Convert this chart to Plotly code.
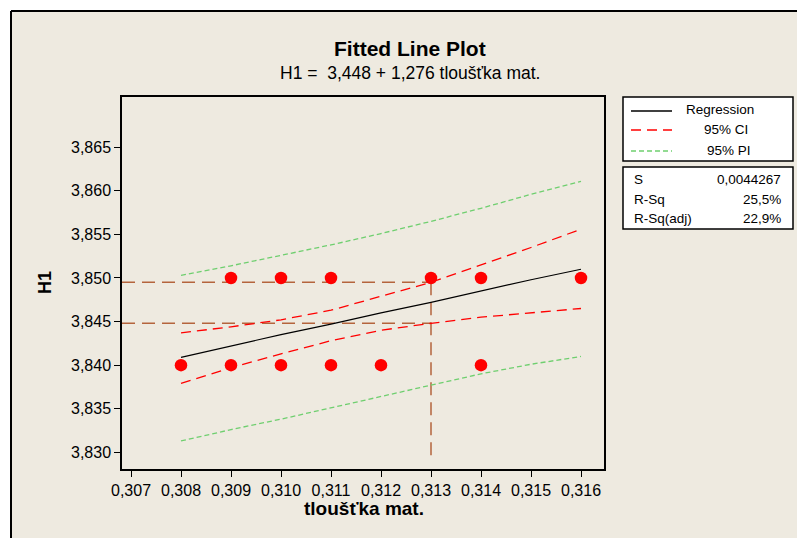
import plotly.graph_objects as go

# ---- data ----
pts_x = [0.309, 0.310, 0.311, 0.313, 0.314, 0.316, 0.308, 0.309, 0.310, 0.311, 0.312, 0.314]
pts_y = [3.850, 3.850, 3.850, 3.850, 3.850, 3.850, 3.840, 3.840, 3.840, 3.840, 3.840, 3.840]

band_x = [0.308, 0.309, 0.310, 0.311, 0.312, 0.313, 0.314, 0.315, 0.316]
reg_y = [3.8409, 3.8422, 3.8435, 3.8447, 3.8460, 3.8472, 3.8485, 3.8498, 3.8510]
ci_up = [3.8437, 3.8444, 3.8452, 3.8463, 3.8479, 3.8495, 3.8515, 3.8535, 3.8556]
ci_lo = [3.8379, 3.8397, 3.8413, 3.8428, 3.8440, 3.8448, 3.8455, 3.8460, 3.8465]
pi_up = [3.8503, 3.8514, 3.8526, 3.8538, 3.8551, 3.8565, 3.8580, 3.8596, 3.8611]
pi_lo = [3.8313, 3.8326, 3.8338, 3.8351, 3.8364, 3.8377, 3.8390, 3.8401, 3.8410]

ref_x = 0.313
ref_hi = 3.8495
ref_lo = 3.8448
ref_bottom = 3.8295

x_ticks = [0.307, 0.308, 0.309, 0.310, 0.311, 0.312, 0.313, 0.314, 0.315, 0.316]
y_ticks = [3.830, 3.835, 3.840, 3.845, 3.850, 3.855, 3.860, 3.865]
x_range = [0.30682, 0.31646]
y_range = [3.82808, 3.87077]

title = "Fitted Line Plot"
subtitle = "H1 =  3,448 + 1,276 tloušťka mat."
x_title = "tloušťka mat."
y_title = "H1"
legend_names = ["Regression", "95% CI", "95% PI"]
stats_names = ["S", "R-Sq", "R-Sq(adj)"]
stats_vals = ["0,0044267", "25,5%", "22,9%"]

# ---- layout geometry (pixels) ----
W, H = 797, 538
L, R, T, B = 122, 604, 97, 469
PW, PH = R - L, B - T
FONT = "Liberation Sans, Arial, sans-serif"

def px(xp):
    return (xp - L) / PW

def py(yp):
    return (B - yp) / PH

BROWN = "#B4643C"
RED = "#FF0000"
GREEN = "#6FCF6F"

fig = go.Figure()

# reference lines
fig.add_trace(go.Scatter(x=[x_range[0], ref_x], y=[ref_hi, ref_hi], mode="lines",
                         line=dict(color=BROWN, width=1.5, dash="13px,7px"), hoverinfo="skip"))
fig.add_trace(go.Scatter(x=[x_range[0], ref_x], y=[ref_lo, ref_lo], mode="lines",
                         line=dict(color=BROWN, width=1.5, dash="13px,7px"), hoverinfo="skip"))
fig.add_trace(go.Scatter(x=[ref_x, ref_x], y=[ref_hi, ref_bottom], mode="lines",
                         line=dict(color=BROWN, width=1.5, dash="13px,7px"), hoverinfo="skip"))

# bands
for yy in (pi_up, pi_lo):
    fig.add_trace(go.Scatter(x=band_x, y=yy, mode="lines",
                             line=dict(color=GREEN, width=1.3, dash="5px,3px")))
for yy in (ci_up, ci_lo):
    fig.add_trace(go.Scatter(x=band_x, y=yy, mode="lines",
                             line=dict(color=RED, width=1.3, dash="10px,6px")))
fig.add_trace(go.Scatter(x=band_x, y=reg_y, mode="lines",
                         line=dict(color="black", width=1.2)))

# points
fig.add_trace(go.Scatter(x=pts_x, y=pts_y, mode="markers",
                         marker=dict(color=RED, size=12.5, line=dict(width=0))))

shapes = []
annotations = []

# beige panel
shapes.append(dict(type="rect", xref="paper", yref="paper", layer="below",
                   x0=px(11), x1=px(800), y0=py(540), y1=py(11),
                   fillcolor="#EEEAE0", line=dict(width=0)))
shapes.append(dict(type="line", xref="paper", yref="paper",
                   x0=px(11), x1=px(800), y0=py(11), y1=py(11),
                   line=dict(color="black", width=2)))
shapes.append(dict(type="line", xref="paper", yref="paper",
                   x0=px(11), x1=px(11), y0=py(11), y1=py(540),
                   line=dict(color="black", width=2)))

# legend box
shapes.append(dict(type="rect", xref="paper", yref="paper",
                   x0=px(623), x1=px(793), y0=py(161), y1=py(97),
                   fillcolor="white", line=dict(color="black", width=1.5)))
shapes.append(dict(type="rect", xref="paper", yref="paper",
                   x0=px(623), x1=px(793), y0=py(229), y1=py(167),
                   fillcolor="white", line=dict(color="black", width=1.5)))

leg_styles = [dict(color="black", width=1.3),
              dict(color=RED, width=1.3, dash="10px,6px"),
              dict(color=GREEN, width=1.3, dash="5px,3px")]
leg_y = [111, 130, 151]
leg_text_x = [684, 702, 705]
for name, st, yy, tx in zip(legend_names, leg_styles, leg_y, leg_text_x):
    shapes.append(dict(type="line", xref="paper", yref="paper",
                       x0=px(631), x1=px(672), y0=py(yy), y1=py(yy), line=st))
    annotations.append(dict(text=name, xref="paper", yref="paper", x=px(tx), y=py(yy - 1),
                            xanchor="left", yanchor="middle", showarrow=False,
                            font=dict(size=13.5, family=FONT, color="black")))

st_y = [179, 199, 218]
for nm, val, yy in zip(stats_names, stats_vals, st_y):
    annotations.append(dict(text=nm, xref="paper", yref="paper", x=px(632), y=py(yy),
                            xanchor="left", yanchor="middle", showarrow=False,
                            font=dict(size=13.5, family=FONT, color="black")))
    annotations.append(dict(text=val, xref="paper", yref="paper", x=px(783), y=py(yy),
                            xanchor="right", yanchor="middle", showarrow=False,
                            font=dict(size=13.5, family=FONT, color="black")))

annotations.append(dict(text="<b>" + title + "</b>", xref="paper", yref="paper",
                        x=px(410), y=py(49), xanchor="center", yanchor="middle", showarrow=False,
                        font=dict(size=21, family=FONT, color="black")))
annotations.append(dict(text=subtitle, xref="paper", yref="paper",
                        x=px(410), y=py(73), xanchor="center", yanchor="middle", showarrow=False,
                        font=dict(size=17.5, family=FONT, color="black")))
annotations.append(dict(text="<b>" + x_title + "</b>", xref="paper", yref="paper",
                        x=px(364), y=py(509), xanchor="center", yanchor="middle", showarrow=False,
                        font=dict(size=19, family=FONT, color="black")))
annotations.append(dict(text="<b>" + y_title + "</b>", xref="paper", yref="paper",
                        x=px(45), y=py(283), xanchor="center", yanchor="middle", showarrow=False,
                        textangle=-90, font=dict(size=18, family=FONT, color="black")))

axis_common = dict(showgrid=False, zeroline=False, showline=True, linecolor="black",
                   linewidth=1.5, mirror=True, ticks="outside", ticklen=6, tickwidth=1,
                   tickcolor="black", tickfont=dict(size=16, family=FONT, color="black"),
                   tickformat=".3f")

fig.update_layout(
    width=W, height=H,
    margin=dict(l=L, r=W - R, t=T, b=H - B, pad=0),
    paper_bgcolor="white", plot_bgcolor="white",
    separators=", ",
    showlegend=False,
    xaxis=dict(range=x_range, tickvals=x_ticks, **axis_common),
    yaxis=dict(range=y_range, tickvals=y_ticks, **axis_common),
    shapes=shapes, annotations=annotations,
)

fig.write_html("out.html")
